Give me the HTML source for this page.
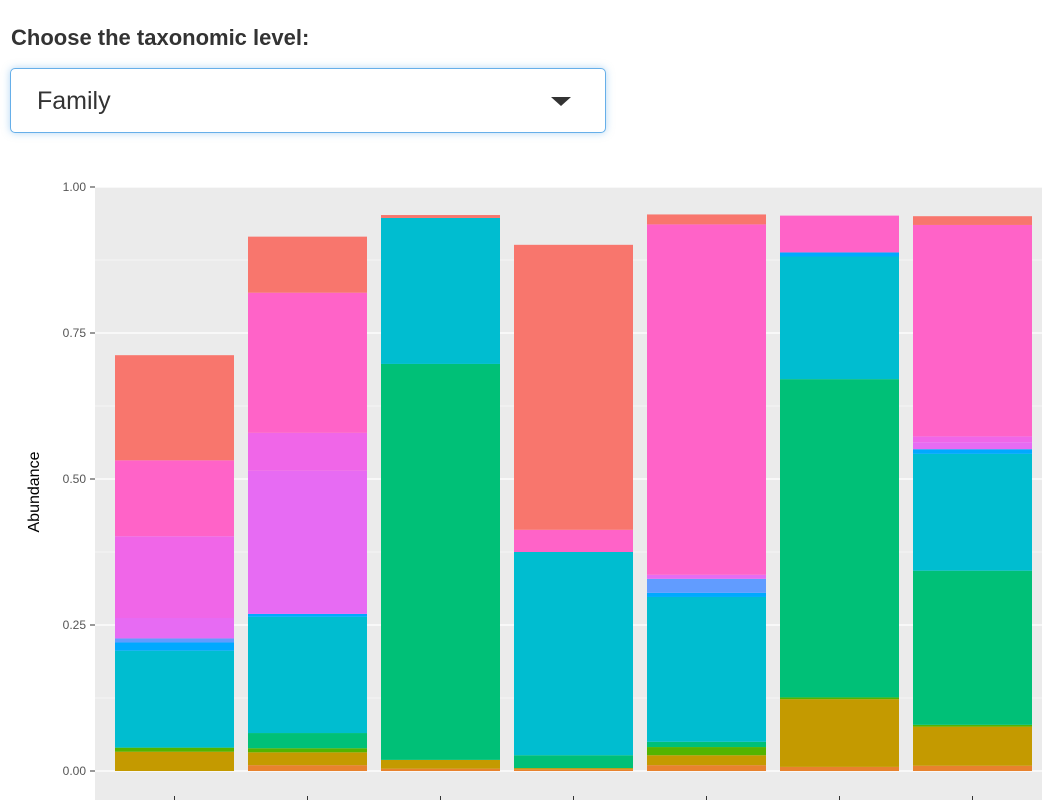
<!DOCTYPE html>
<html><head><meta charset="utf-8"><style>
body{margin:0;width:1042px;height:800px;overflow:hidden;background:#fff;font-family:"Liberation Sans",Arial,sans-serif;}
#lbl{position:absolute;left:11px;top:25px;font-size:22px;font-weight:bold;color:#333;}
#sel{position:absolute;left:10px;top:68px;width:596px;height:65px;border:1.5px solid #66afe9;border-radius:5px;box-shadow:0 0 8px rgba(102,175,233,.5);box-sizing:border-box;}
#sel span{position:absolute;left:26px;top:18px;font-size:25px;color:#333;}
#sel i{position:absolute;right:34px;top:28px;width:0;height:0;border-left:10px solid transparent;border-right:10px solid transparent;border-top:9px solid #333;}
svg{position:absolute;left:0;top:0;}
</style></head><body>
<div id="lbl">Choose the taxonomic level:</div>
<div id="sel"><span>Family</span><i></i></div>
<svg id="chart" width="1042" height="800"></svg>
<script>
const samples=[1,2,3,4,5,6,7];
const taxa=["orange","gold","olive","green","teal","blue","ltblue","violet","magenta","pink","salmon"];
const taxaColors=["#E8822E","#C49A00","#53B400","#00C077","#00BDD0","#00A9FF","#619CFF","#E76BF3","#F066E8","#FF63C8","#F8766D"];
const orange=[0,.01,.004,.003,.01,.007,.009];
const gold=[.033,.022,.015,.002,.017,.116,.067];
const olive=[.007,.007,0,0,.014,.003,.003];
const green=[0,.026,.678,.022,.009,.545,.264];
const teal=[.166,.199,.25,.348,.248,.21,.2];
const blue=[.014,.005,0,0,.007,.007,.008];
const ltblue=[.007,0,0,0,.024,0,0];
const violet=[.035,.245,0,0,.007,0,.012];
const magenta=[.14,.065,0,0,0,0,.01];
const pink=[.13,.24,0,.038,.6,.063,.362];
const salmon=[.18,.096,.005,.488,.017,0,.015];
const seriesVals=[orange,gold,olive,green,teal,blue,ltblue,violet,magenta,pink,salmon];
const yTicks=[0,0.25,0.5,0.75,1];
const yTickLabels=["0.00","0.25","0.50","0.75","1.00"];

const NS="http://www.w3.org/2000/svg";
const svg=document.getElementById('chart');
const y=v=>771-v*584;
const x=i=>115+i*133;
const bw=119;
function mk(t,a){const e=document.createElementNS(NS,t);for(const k in a)e.setAttribute(k,a[k]);svg.appendChild(e);return e;}
const panel=mk('rect',{x:95,y:y(1),width:947,height:800-y(1),fill:'#EBEBEB'});


for(let i=0;i<4;i++){const v=(yTicks[i]+yTicks[i+1])/2;mk('line',{x1:95,x2:1042,y1:y(v),y2:y(v),stroke:'#fff','stroke-width':0.6});}
yTicks.forEach((v,i)=>{
 const g=mk('line',{x1:95,x2:1042,y1:y(v),y2:y(v),stroke:'#fff','stroke-width':1.3});
 
 
 mk('line',{x1:90,x2:95,y1:y(v),y2:y(v),stroke:'#333','stroke-width':1});
 const t=mk('text',{x:86,y:y(v)+4,'text-anchor':'end','font-size':12,fill:'#555'});
 t.textContent=yTickLabels[i];
 
 
});
samples.forEach((s,i)=>{
 let cum=0;
 seriesVals.forEach((arr,k)=>{
  const v=arr[i]; if(v<=0)return;
  const r=mk('rect',{x:x(i),y:y(cum+v),width:bw,height:v*584,fill:taxaColors[k]});
  
  
  cum+=v;
 });
 mk('line',{x1:x(i)+bw/2,x2:x(i)+bw/2,y1:796,y2:800,stroke:'#333'});
});
const at=mk('text',{x:0,y:0,transform:'translate(39,492) rotate(-90)','text-anchor':'middle','font-size':16,fill:'#000'});
at.textContent='Abundance';


</script>
</body></html>
